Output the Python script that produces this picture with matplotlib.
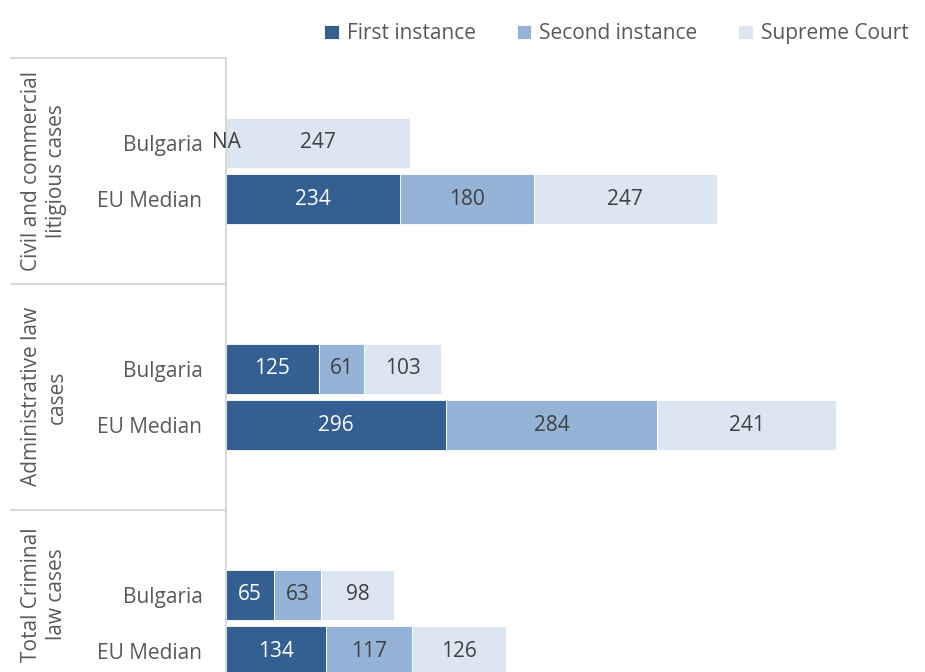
import matplotlib.pyplot as plt
import numpy as np

plt.rcParams['font.family'] = ['Open Sans', 'DejaVu Sans']

## data
groups = ['Civil and commercial\nlitigious cases', 'Administrative law\ncases', 'Total Criminal\nlaw cases']
rows = ['Bulgaria', 'EU Median']
series = ['First instance', 'Second instance', 'Supreme Court']
first = [None, 234, 125, 296, 65, 134]
second = [None, 180, 61, 284, 63, 117]
supreme = [247, 247, 103, 241, 98, 126]

colors = ['#335f91', '#95b3d7', '#dce6f2']
label_colors = ['white', '#404040', '#404040']

## positions: 4 slots per group, rows in slot 1 and 2
ypos = []
for g in range(len(groups)):
    ypos += [4 * g + 1, 4 * g + 2]
ypos = np.array(ypos)

fs = 15

fig = plt.figure(figsize=(9.25, 6.72), dpi=100)
ax = fig.add_axes([226 / 925, 0, 699 / 925, 1 - 58 / 672])

left = np.zeros(len(ypos))
for vals, col, lc, name in zip([first, second, supreme], colors, label_colors, series):
    v = np.array([0 if x is None else x for x in vals], dtype=float)
    ax.barh(ypos, v, left=left, height=0.885, color=col, edgecolor='white',
            linewidth=0.6, label=name)
    for y, l, x, raw in zip(ypos, left, v, vals):
        if raw is None:
            if name == series[0]:
                ax.text(0, y, 'NA', ha='center', va='center', fontsize=fs, color='#404040')
            continue
        ax.text(l + x / 2, y, str(raw), ha='center', va='center', fontsize=fs, color=lc)
    left = left + v

ax.set_xlim(0, 699 / 0.743)
ax.set_ylim(10.37, -0.5)
ax.set_xticks([])
ax.set_yticks(ypos)
ax.set_yticklabels(rows * len(groups), fontsize=fs, color='#595959')
ax.tick_params(axis='y', length=0, pad=17)
for s in ['top', 'right', 'bottom']:
    ax.spines[s].set_visible(False)
ax.spines['left'].set_color('#d9d9d9')
ax.spines['left'].set_linewidth(1.5)

## group separators and labels
tr = ax.get_yaxis_transform()
for g in range(len(groups)):
    ax.plot([-0.3076, 0], [4 * g - 0.5] * 2, transform=tr, color='#d9d9d9',
            lw=1.5, clip_on=False)
label_y = [1.5, 5.5, 9.0]
for g, name in enumerate(groups):
    ax.text(-0.2604, label_y[g], name, transform=tr, rotation=90, ha='center',
            va='center', fontsize=fs, color='#595959', linespacing=1.3)

fig.legend(loc='upper right', bbox_to_anchor=(1.003, 0.993), ncol=3, frameon=False,
           fontsize=fs, handlelength=0.7, handleheight=0.7, handletextpad=0.4,
           columnspacing=1.95, labelcolor='#595959')

fig.savefig('out.png', dpi=100)
